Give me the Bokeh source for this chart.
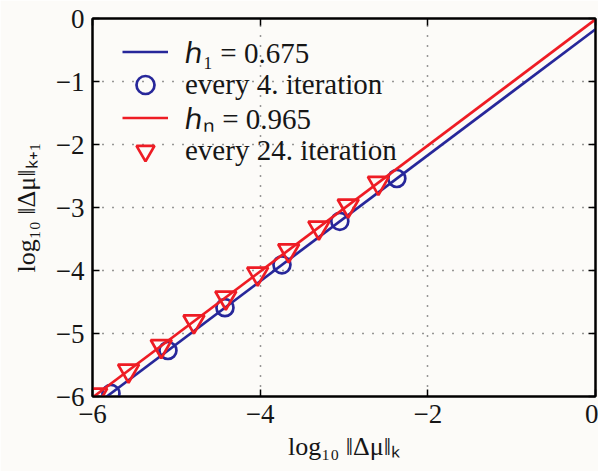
from bokeh.plotting import figure
from bokeh.models import Range1d, FixedTicker, LinearAxis, Legend, LegendItem
from bokeh.embed import file_html
from bokeh.resources import INLINE

# ---- data ----
blue_line_x = [-5.83, 0.0]
blue_line_y = [-6.0, -0.17]
red_line_x = [-6.0, 0.0]
red_line_y = [-6.015, -0.015]

circle_x = [-2.37, -3.05, -3.74, -4.42, -5.10, -5.78]
circle_y = [-2.54, -3.22, -3.91, -4.59, -5.27, -5.95]

tri_x = [-2.59, -2.95, -3.30, -3.66, -4.03, -4.41, -4.79, -5.18, -5.57, -5.95]
tri_y = [-2.61, -2.97, -3.32, -3.68, -4.05, -4.43, -4.81, -5.20, -5.59, -5.97]

x_ticks = [-6, -4, -2, 0]
x_tick_labels = ["\u22126", "\u22124", "\u22122", "0"]
y_ticks = [-6, -5, -4, -3, -2, -1, 0]
y_tick_labels = ["\u22126", "\u22125", "\u22124", "\u22123", "\u22122", "\u22121", "0"]

legend_labels = ["\u210e\u2081 = 0.675", "every 4. iteration",
                 "\u210e\u2099 = 0.965", "every 24. iteration"]

BLUE = "#27279a"
RED = "#ee1c24"
BG = "#fcfbf8"
FONT = "Liberation Serif"
TXT = "#161616"

p = figure(width=598, height=471, output_backend="svg", toolbar_location=None,
           x_range=Range1d(-6, 0), y_range=Range1d(-6, 0),
           min_border_left=92, min_border_right=3, min_border_top=18, min_border_bottom=75,
           background_fill_color=BG, border_fill_color=BG)

p.outline_line_color = "black"
p.outline_line_width = 2

# grid
for g, ticks in ((p.xgrid, x_ticks), (p.ygrid, y_ticks)):
    g.ticker = FixedTicker(ticks=ticks)
    g.grid_line_color = "#333333"
    g.grid_line_dash = "1 9"
    g.grid_line_width = 1.5

def style_axis(ax, ticks, labels, show_labels=True):
    ax.ticker = FixedTicker(ticks=ticks)
    ax.major_label_overrides = {t: l for t, l in zip(ticks, labels)}
    ax.major_tick_in = 7
    ax.major_tick_out = 0
    ax.minor_tick_line_color = None
    ax.major_tick_line_width = 1.5
    ax.axis_line_width = 2
    ax.axis_line_color = "black"
    ax.major_label_text_font = FONT
    ax.major_label_text_font_size = "27px"
    ax.major_label_text_color = TXT
    ax.axis_label_text_font = FONT
    ax.axis_label_text_font_size = "26px"
    ax.axis_label_text_font_style = "normal"
    ax.axis_label_text_color = TXT
    if not show_labels:
        ax.major_label_text_font_size = "0px"
        ax.major_label_text_alpha = 0

style_axis(p.xaxis[0], x_ticks, x_tick_labels)
style_axis(p.yaxis[0], y_ticks, y_tick_labels)
p.xaxis[0].axis_label = "log\u2081\u2080 \u2016\u0394\u03bc\u2016\u2096"
p.yaxis[0].axis_label = "log\u2081\u2080 \u2016\u0394\u03bc\u2016\u2096\u208a\u2081"
p.xaxis[0].major_label_standoff = 8
p.yaxis[0].major_label_standoff = 8
p.xaxis[0].axis_label_standoff = 6
p.yaxis[0].axis_label_standoff = 12

top = LinearAxis()
right = LinearAxis()
style_axis(top, x_ticks, x_tick_labels, show_labels=False)
style_axis(right, y_ticks, y_tick_labels, show_labels=False)
p.add_layout(top, "above")
p.add_layout(right, "right")

# data
r_bl = p.line(blue_line_x, blue_line_y, line_color=BLUE, line_width=2.7)
r_bc = p.scatter(circle_x, circle_y, marker="circle", size=17, line_width=2.7,
                 line_color=BLUE, fill_color=None)
r_rl = p.line(red_line_x, red_line_y, line_color=RED, line_width=2.7)
r_rt = p.scatter(tri_x, tri_y, marker="inverted_triangle", size=21, line_width=2.7,
                 line_color=RED, fill_color=None)

renderers = [r_bl, r_bc, r_rl, r_rt]
legend_y = [322, 289, 256, 223]
for lab, rend, ly in zip(legend_labels, renderers, legend_y):
    lg = Legend(items=[LegendItem(label=lab, renderers=[rend])], location=(30, ly))
    lg.background_fill_alpha = 0
    lg.border_line_color = None
    lg.padding = 0
    lg.margin = 0
    lg.glyph_width = 46
    lg.glyph_height = 45
    lg.label_height = 45
    lg.label_standoff = 17
    lg.label_text_font = FONT
    lg.label_text_font_size = "29px"
    lg.label_text_color = TXT
    p.add_layout(lg, "center")

open("out.html", "w").write(file_html(p, INLINE))
